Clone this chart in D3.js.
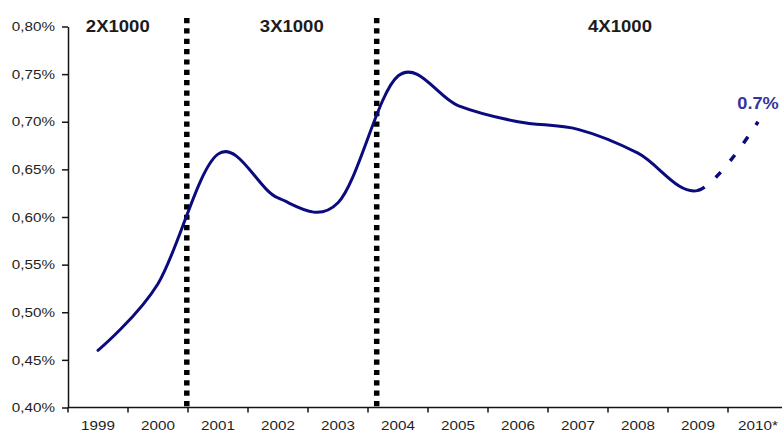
<!DOCTYPE html>
<html>
<head>
<meta charset="utf-8">
<script src="https://cdn.jsdelivr.net/npm/d3@7"></script>
<style>
  html, body { margin: 0; padding: 0; background: #fff; }
  svg { display: block; }
  text { font-family: "Liberation Sans", Arial, sans-serif; }
</style>
</head>
<body>
<svg id="chart" width="782" height="434"></svg>
<script>
// Financial transactions tax take, share of GDP, by year
const years = ["1999", "2000", "2001", "2002", "2003", "2004", "2005", "2006", "2007", "2008", "2009", "2010*"];
const rates = [0.46, 0.53, 0.666, 0.62, 0.615, 0.748, 0.717, 0.70, 0.692, 0.667, 0.628, 0.70];

// Axis ticks
const yTickValues = [0.40, 0.45, 0.50, 0.55, 0.60, 0.65, 0.70, 0.75, 0.80];
const yTickLabels = ["0,40%", "0,45%", "0,50%", "0,55%", "0,60%", "0,65%", "0,70%", "0,75%", "0,80%"];

// Tax regimes and the points in time where the rate changed
const regimeLabels = ["2X1000", "3X1000", "4X1000"];
const regimeBreaks = [2000.98, 2004.145];

// Projected value for the last year
const projectionLabel = "0.7%";

const W = 782, H = 434;
const plotLeft = 68, plotTop = 26.5, plotBottom = 407.5;
const svg = d3.select("#chart");
svg.append("rect").attr("width", W).attr("height", H).attr("fill", "#fff");

const x = d3.scaleBand().domain(years).range([plotLeft, plotLeft + 60 * years.length]).padding(0);
const bw = x.bandwidth();
const y = d3.scaleLinear().domain([0.40, 0.80]).range([plotBottom, plotTop]);

// position for a fractional year along the categorical axis
const yearX = v => {
  const i = Math.floor(v) - 1999;
  return x(years[i]) + (v - Math.floor(v)) * bw;
};

// widen glyphs horizontally
function stretch(sel, k) {
  sel.each(function () {
    const w = this.getComputedTextLength();
    d3.select(this).attr("textLength", w * k).attr("lengthAdjust", "spacingAndGlyphs");
  });
}

const axisColor = "#141414";
const textColor = "#1e1e1e";

// Y axis
const yAxis = svg.append("g")
  .attr("transform", `translate(${plotLeft},0)`)
  .call(d3.axisLeft(y).tickValues(yTickValues)
    .tickFormat((d, i) => yTickLabels[i]).tickSize(6).tickPadding(7).tickSizeOuter(0));
yAxis.select(".domain").attr("stroke", axisColor).attr("stroke-width", 1.5);
yAxis.selectAll(".tick line").attr("stroke", axisColor).attr("stroke-width", 1.5);
yAxis.selectAll(".tick text").attr("font-size", 13).attr("fill", textColor)
  .attr("font-family", "Liberation Sans, Arial, sans-serif").call(stretch, 1.17);

// X axis: labels at band centres, ticks at band edges
const xAxis = svg.append("g").attr("transform", `translate(0,${plotBottom})`);
xAxis.append("line").attr("x1", plotLeft).attr("x2", W).attr("y1", 0).attr("y2", 0)
  .attr("stroke", axisColor).attr("stroke-width", 1.5);
xAxis.selectAll("line.tk").data(years).join("line").attr("class", "tk")
  .attr("x1", d => x(d)).attr("x2", d => x(d)).attr("y1", 0).attr("y2", 5)
  .attr("stroke", axisColor).attr("stroke-width", 1.5);
xAxis.selectAll("text.lbl").data(years).join("text").attr("class", "lbl")
  .attr("x", d => x(d) + bw / 2).attr("y", 22.5)
  .attr("text-anchor", "middle").attr("font-size", 13).attr("fill", textColor)
  .text(d => d).call(stretch, 1.17);

// Regime change markers
svg.selectAll("line.regime").data(regimeBreaks).join("line").attr("class", "regime")
  .attr("x1", d => yearX(d)).attr("x2", d => yearX(d))
  .attr("y1", 18).attr("y2", plotBottom)
  .attr("stroke", "#000").attr("stroke-width", 5.5).attr("stroke-dasharray", "5.2 5.15");

// Regime labels
const regimeLabelAt = [1999.83, 2002.73, 2008.2];
svg.selectAll("text.regime").data(regimeLabels).join("text").attr("class", "regime")
  .attr("x", (d, i) => yearX(regimeLabelAt[i])).attr("y", 31.5)
  .attr("text-anchor", "middle").attr("font-size", 17).attr("font-weight", "bold")
  .attr("fill", "#1c1c1c").text(d => d).call(stretch, 1.09);

// Series line: solid through 2009, dashed for the projected year
const pts = years.map((yr, i) => [x(yr) + bw / 2, y(rates[i])]);
const lineGen = d3.line().curve(d3.curveCardinal.tension(0));
const full = lineGen(pts);
const parts = full.split("C");
const solidD = parts.slice(0, parts.length - 1).join("C");
const last = pts[pts.length - 2];
const dashedD = `M${last[0]},${last[1]}C${parts[parts.length - 1]}`;

const lineColor = "#0b0b7e";
svg.append("path").attr("d", solidD).attr("fill", "none")
  .attr("stroke", lineColor).attr("stroke-width", 3).attr("stroke-linecap", "round");
const dashed = svg.append("path").attr("d", dashedD).attr("fill", "none")
  .attr("stroke", lineColor).attr("stroke-width", 3.5);
// fit the dash pattern so the last dash finishes on the projected point
const segLen = dashed.node().getTotalLength();
const dash = 7.5;
const nGaps = Math.max(1, Math.round((segLen - 4) / 23));
const gap = (segLen - 4) / nGaps - dash;
dashed.attr("stroke-dasharray", `${dash} ${gap}`);

// Projection value label
const endPt = pts[pts.length - 1];
svg.append("text").attr("x", endPt[0]).attr("y", endPt[1] - 12.5)
  .attr("text-anchor", "middle").attr("font-size", 17).attr("font-weight", "bold")
  .attr("fill", "#34349c").text(projectionLabel).call(stretch, 1.07);
</script>
</body>
</html>
